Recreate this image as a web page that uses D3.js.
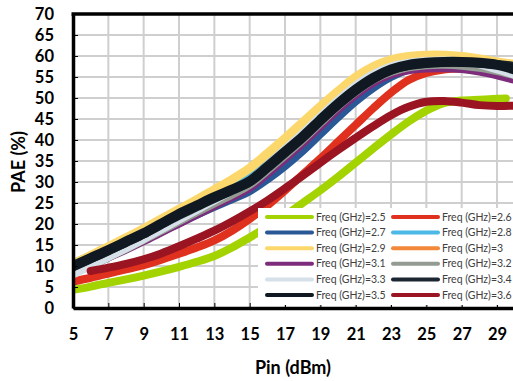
<!DOCTYPE html>
<html><head><meta charset="utf-8">
<script src="https://cdn.jsdelivr.net/npm/d3@7"></script>
<style>body{margin:0;background:#fff}svg{display:block}</style>
</head><body><svg id="c" width="513" height="381"></svg>
<script>
// ---- data ----
const pin      = [5,6,7,8,9,10,11,12,13,14,15,16,17,18,19,20,21,22,23,24,25,26,27,28,29,30];
const pinF25   = [5,6,7,8,9,10,11,12,13,14,15,16,17,18,19,20,21,22,23,24,25,26,27,28,29,29.5];
const f25 = [4.3,5.1,6.0,6.8,7.7,8.7,9.8,11.0,12.4,14.4,16.8,19.3,22.0,25.0,28.0,31.2,34.6,38.0,41.3,44.4,47.0,48.8,49.4,49.6,49.8,49.9];
const f26 = [6.3,7.2,8.2,9.2,10.2,11.5,12.9,14.4,16.1,18.4,21.2,24.4,28.0,31.8,35.6,39.6,43.6,47.6,51.3,54.3,56.0,56.8,57.0,56.8,56.2,55.4];
const f27 = [9.0,10.7,12.5,14.3,16.2,18.2,20.2,22.2,24.1,25.9,27.8,30.6,33.8,37.4,41.4,45.4,49.2,52.4,55.0,56.8,57.7,58.1,58.1,57.8,57.2,56.4];
const f28 = [10.6,12.5,14.5,16.5,18.5,20.8,23.1,25.1,27.1,29.0,31.1,34.4,38.0,41.6,45.5,49.2,52.5,55.1,57.0,58.0,58.5,58.6,58.5,58.2,57.6,56.8];
const f29 = [10.5,12.5,14.6,16.7,18.9,21.2,23.5,25.8,28.2,30.6,33.3,36.8,40.4,44.2,48.0,51.6,55.0,57.5,59.1,59.9,60.2,60.2,59.9,59.3,58.6,58.0];
const f30 = [8.6,10.4,12.3,14.3,16.3,18.5,20.7,22.8,24.9,26.9,29.0,32.3,35.9,39.6,43.6,47.6,51.1,54.0,56.0,57.1,57.6,57.7,57.5,57.0,56.2,55.0];
const f31 = [8.4,10.1,12.0,13.9,15.9,18.0,20.1,22.2,24.3,26.4,28.6,31.9,35.5,39.2,43.2,47.2,50.7,53.6,55.6,56.6,57.0,57.1,56.9,56.3,55.4,54.3];
const f32 = [8.2,10.1,12.1,14.1,16.2,18.4,20.6,22.8,24.9,27.0,29.3,32.7,36.3,40.0,44.0,48.0,51.4,54.3,56.2,57.3,57.8,57.9,57.7,57.2,56.4,55.4];
const f33 = [8.0,10.0,12.1,14.2,16.4,18.7,21.0,23.3,25.6,27.9,30.4,34.0,37.8,41.6,45.6,49.5,53.0,55.7,57.5,58.4,58.8,58.9,58.7,58.0,56.8,55.5];
const f34 = [9.8,11.7,13.6,15.6,17.6,19.9,22.1,24.1,26.1,28.0,30.0,33.3,36.9,40.5,44.5,48.3,51.7,54.5,56.6,57.7,58.2,58.5,58.5,58.3,58.0,57.5];
const f35 = [10.0,11.9,13.8,15.8,17.8,20.1,22.4,24.4,26.4,28.2,30.2,33.6,37.2,40.8,44.8,48.6,52.0,54.8,56.8,57.9,58.4,58.6,58.6,58.4,57.9,56.8];
const f36 = [null,8.8,9.6,10.5,11.6,13.0,14.7,16.5,18.4,20.6,23.0,25.6,28.5,31.5,34.6,37.6,40.5,43.3,45.9,47.9,49.1,49.3,48.9,48.3,48.1,48.2];

const seriesNames = ["2.5","2.6","2.7","2.8","2.9","3","3.1","3.2","3.3","3.4","3.5","3.6"];
const seriesVals  = [f25,f26,f27,f28,f29,f30,f31,f32,f33,f34,f35,f36];
const seriesX     = [pinF25,pin,pin,pin,pin,pin,pin,pin,pin,pin,pin,pin];
const colors = ["#a3d300","#e0301e","#2a5896","#4cb8e6","#fcd86c","#f2883a","#7d2c7b","#939b93","#d6e0e8","#1b2630","#101921","#9a1422"];
const widths = [8,8,8,8,9,8,8,8,8,9,10,8];

const xTicks = [5,7,9,11,13,15,17,19,21,23,25,27,29];
const yTicks = [0,5,10,15,20,25,30,35,40,45,50,55,60,65,70];

// ---- chart ----
const svg = d3.select("#c");
const L = 73, R = 514.7, T = 14, B = 308;
const x = d3.scaleLinear().domain([5,30]).range([L,R]);
const y = d3.scaleLinear().domain([0,70]).range([B,T]);

svg.append("rect").attr("width",513).attr("height",381).attr("fill","#fff");

// grid
const grid = svg.append("g").attr("stroke","#cfcfcf").attr("stroke-width",2);
grid.selectAll(".hg").data(yTicks.filter(v=>v>0 && v<70)).enter().append("line")
  .attr("x1",L).attr("x2",R).attr("y1",d=>y(d)).attr("y2",d=>y(d));
grid.selectAll(".vg").data(xTicks.filter(v=>v>5)).enter().append("line")
  .attr("y1",T).attr("y2",B).attr("x1",d=>x(d)).attr("x2",d=>x(d));

svg.append("clipPath").attr("id","pc").append("rect")
  .attr("x",L).attr("y",T).attr("width",R-L).attr("height",B-T);

const lineGen = d3.line().defined(d=>d[1]!=null).x(d=>x(d[0])).y(d=>y(d[1]))
  .curve(d3.curveCatmullRom.alpha(0.5));
const lines = svg.append("g").attr("clip-path","url(#pc)");
seriesNames.forEach((n,i)=>{
  const pts = seriesX[i].map((p,j)=>[p,seriesVals[i][j]]);
  lines.append("path").attr("d",lineGen(pts)).attr("fill","none")
    .attr("stroke",colors[i]).attr("stroke-width",widths[i])
    .attr("stroke-linecap","round").attr("stroke-linejoin","round");
});

// axes
const font = "Lato, 'Open Sans', sans-serif";
const ax = svg.append("g").attr("transform",`translate(0,${B})`)
  .call(d3.axisBottom(x).tickValues(xTicks).tickSizeInner(-5).tickSizeOuter(0).tickPadding(20));
const ay = svg.append("g").attr("transform",`translate(${L},0)`)
  .call(d3.axisLeft(y).tickValues(yTicks).tickSizeInner(-5).tickSizeOuter(0).tickPadding(19));
[ax,ay].forEach(g=>{
  g.select(".domain").attr("stroke","#000").attr("stroke-width",3.5);
  g.selectAll(".tick line").attr("stroke","#000").attr("stroke-width",1);
  g.selectAll("text").attr("font-family",font).attr("font-weight","bold")
    .attr("font-size","16.5px").attr("fill","#000");
});
ay.selectAll("text").attr("dy","0.35em");
svg.append("line").attr("x1",L-1.5).attr("x2",R).attr("y1",T).attr("y2",T)
  .attr("stroke","#000").attr("stroke-width",3.5);

svg.append("text").attr("x",293).attr("y",374).attr("text-anchor","middle")
  .attr("font-family",font).attr("font-weight","bold").attr("font-size","18px").text("Pin (dBm)");
svg.append("text").attr("transform","translate(25,162) rotate(-90)").attr("text-anchor","middle")
  .attr("font-family",font).attr("font-weight","bold").attr("font-size","18px").text("PAE (%)");

// legend
const lg = svg.append("g");
lg.append("rect").attr("x",258).attr("y",208).attr("width",260).attr("height",97).attr("fill","#fff");
seriesNames.forEach((n,i)=>{
  const col = i%2, row = Math.floor(i/2);
  const lx = col===0 ? 267 : 393;
  const ly = 217 + row*15.6;
  lg.append("line").attr("x1",lx).attr("x2",lx+45).attr("y1",ly).attr("y2",ly)
    .attr("stroke",colors[i]).attr("stroke-width",4).attr("stroke-linecap","round");
  lg.append("text").attr("x",lx+49).attr("y",ly).attr("dy","0.35em")
    .attr("font-family",font).attr("font-size","10.5px").attr("fill","#404040")
    .text("Freq (GHz)="+n);
});
</script></body></html>
